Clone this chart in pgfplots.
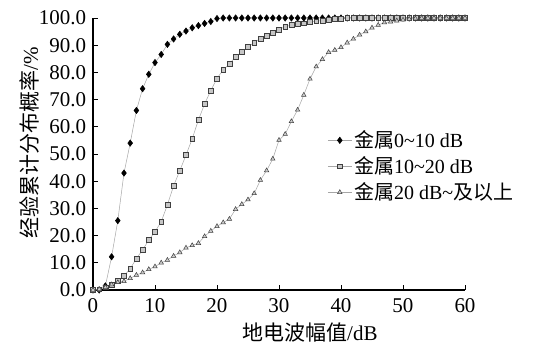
\documentclass[border=0pt]{standalone}
\usepackage{pgfplots}
\pgfplotsset{compat=1.18}
\usepackage{fontspec}
\setmainfont{Liberation Serif}
\newfontfamily\cjk{Noto Sans CJK SC}
\begin{document}
\fontsize{20}{24}\selectfont
\begin{tikzpicture}
\useasboundingbox (-93pt,-62pt) rectangle (448pt,290pt);
\begin{axis}[
  at={(0,0)}, anchor=south west,
  scale only axis, width=372pt, height=272pt,
  xmin=0, xmax=60, ymin=0, ymax=100,
  axis lines=left, axis line style={-, line width=1.1pt},
  xtick={0,10,...,60}, ytick={0,10,...,100},
  tick align=inside, major tick length=5pt,
  tick style={line width=0.8pt, black},
  /pgf/number format/assume math mode=true,
  yticklabel style={/pgf/number format/.cd, fixed, fixed zerofill, precision=1},
  ticklabel style={font=\fontsize{21}{25}\selectfont},
  xticklabel style={yshift=-2pt},
  xlabel={{\cjk 地电波幅值}/dB},
  ylabel={{\cjk 经验累计分布概率}/\%},
  xlabel style={at={(axis description cs:0.583,0)}, anchor=north, yshift=-26pt, font=\fontsize{21}{25}\selectfont},
  ylabel style={at={(axis description cs:-0.17,0.54)}, anchor=center, font=\fontsize{21}{25}\selectfont},
  legend style={at={(rel axis cs:0.63,0.595)}, anchor=north west, draw=none, fill=none,
    font=\fontsize{20}{24}\selectfont, row sep=2pt, inner sep=0pt},
  legend cell align=left,
  legend image code/.code={\draw[#1, mark repeat=2, mark phase=2] plot coordinates {(0pt,0pt) (12pt,0pt) (24pt,0pt)};},
  clip=false,
]
\addplot[gray!70, line width=0.5pt, mark=diamond*, mark size=3.2pt, mark options={fill=black, draw=black, solid}] coordinates {
(0,0)(1,0)(2,1.5)(3,12.2)(4,25.5)(5,43)(6,54)(7,66)(8,74)(9,79.3)(10,83.6)(11,86.6)(12,90.3)(13,92.3)(14,94)(15,95.2)(16,96.4)(17,97.2)(18,98)(19,98.7)(20,99.8)
(21,100)(22,100)(23,100)(24,100)(25,100)(26,100)(27,100)(28,100)(29,100)(30,100)(31,100)(32,100)(33,100)(34,100)(35,100)(36,100)(37,100)(38,100)(39,100)(40,100)
(41,100)(42,100)(43,100)(44,100)(45,100)(46,100)(47,100)(48,100)(49,100)(50,100)(51,100)(52,100)(53,100)(54,100)(55,100)(56,100)(57,100)(58,100)(59,100)(60,100)};
\addlegendentry{{\cjk 金属}0\textasciitilde10 dB}
\addplot[gray!70, line width=0.5pt, mark=square*, mark size=2.4pt, mark options={fill=gray!45, draw=black!75, solid}] coordinates {
(0,0)(1,0.3)(2,1)(3,2)(4,3.3)(5,5.2)(6,7.8)(7,11.6)(8,14.7)(9,18.4)(10,21.4)(11,25.1)(12,31.3)(13,38.3)(14,43.9)(15,49.6)(16,55.6)(17,62.5)(18,68.4)(19,73.3)(20,77.8)
(21,80.9)(22,83.1)(23,85.8)(24,87.5)(25,89.3)(26,91)(27,92.5)(28,93.6)(29,94.6)(30,95.8)(31,96.8)(32,97.4)(33,97.8)(34,98.1)(35,98.5)(36,98.8)(37,99.1)(38,99.4)(39,99.6)(40,99.8)
(41,100)(42,100)(43,100)(44,100)(45,100)(46,100)(47,100)(48,100)(49,100)(50,100)(51,100)(52,100)(53,100)(54,100)(55,100)(56,100)(57,100)(58,100)(59,100)(60,100)};
\addlegendentry{{\cjk 金属}10\textasciitilde20 dB}
\addplot[gray!70, line width=0.5pt, mark=triangle*, mark size=2.6pt, mark options={fill=gray!40, draw=black!75, solid}] coordinates {
(0,0)(1,0.3)(2,1)(3,2)(4,2.8)(5,3.2)(6,4.3)(7,5.5)(8,6.4)(9,7.6)(10,8.6)(11,10)(12,11)(13,12.5)(14,13.8)(15,15.5)(16,16.4)(17,17.2)(18,19.7)(19,21.7)(20,23.4)
(21,24.8)(22,26.1)(23,29.7)(24,31.5)(25,33.2)(26,35.5)(27,40.4)(28,43.9)(29,48.2)(30,55.1)(31,57.3)(32,62)(33,66.2)(34,71.7)(35,77.6)(36,82.1)(37,84.8)(38,87.4)(39,88.2)(40,89.2)
(41,90.9)(42,92.3)(43,93.8)(44,95)(45,96.4)(46,97.4)(47,98.3)(48,98.6)(49,99)(50,99.3)(51,99.6)(52,99.8)(53,100)(54,100)(55,100)(56,100)(57,100)(58,100)(59,100)(60,100)};
\addlegendentry{{\cjk 金属}20 dB\textasciitilde{\cjk 及以上}}
\end{axis}
\end{tikzpicture}
\end{document}
